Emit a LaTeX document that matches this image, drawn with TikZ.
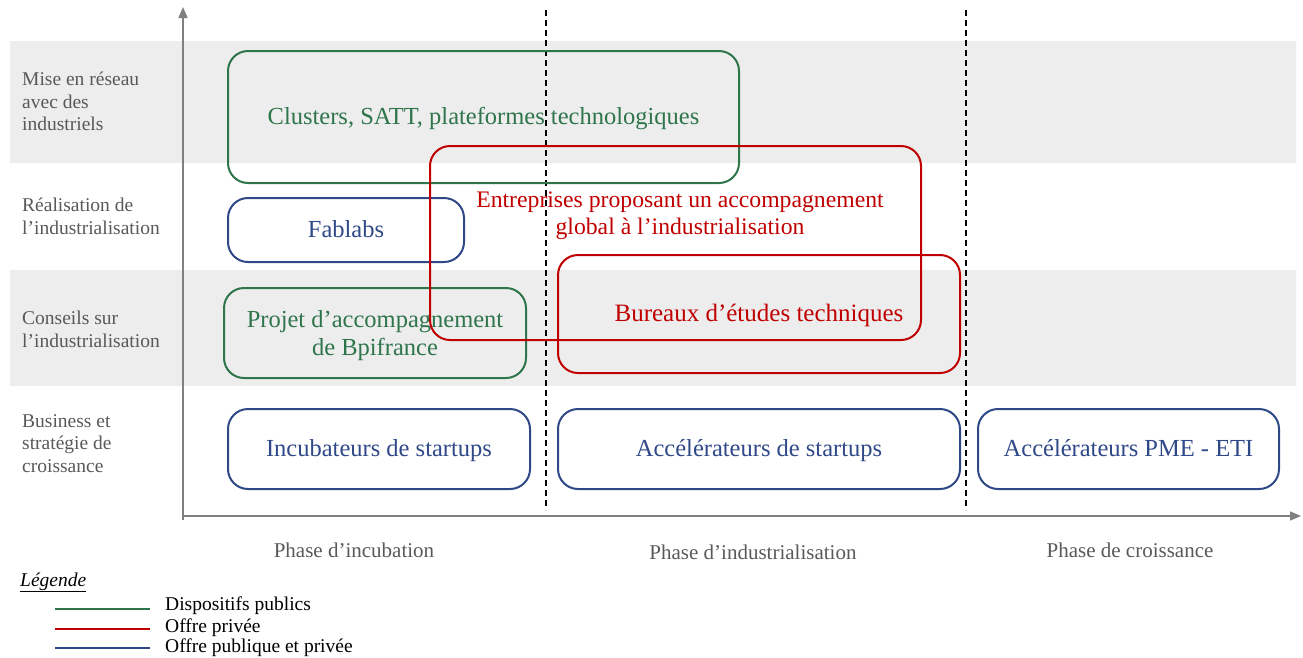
\documentclass[tikz,border=0pt]{standalone}
\usepackage{fontspec}
\setmainfont{Liberation Serif}
\usetikzlibrary{arrows.meta}
\definecolor{cgreen}{RGB}{46,117,76}
\definecolor{cred}{RGB}{192,0,0}
\definecolor{cblue}{RGB}{47,72,136}
\definecolor{cband}{RGB}{237,237,237}
\definecolor{cgray}{RGB}{89,89,89}
\definecolor{caxis}{RGB}{128,128,128}
\tikzset{
  box/.style={draw, line width=2pt, rounded corners=20pt, inner sep=0pt, align=center,
    font=\fontsize{24.5}{28}\selectfont},
  one/.style={text height=17pt, text depth=2pt},
  gbox/.style={box, draw=cgreen, text=cgreen},
  rbox/.style={box, draw=cred, text=cred},
  bbox/.style={box, draw=cblue, text=cblue},
  rowlab/.style={anchor=north west, align=left, text=cgray, inner sep=0pt,
    font=\fontsize{19.5}{22.5}\selectfont},
  phaselab/.style={anchor=base, text=cgray, inner sep=0pt, font=\fontsize{21}{24}\selectfont},
  leglab/.style={anchor=base west, inner sep=0pt, font=\fontsize{19.5}{22}\selectfont},
  axis/.style={draw=caxis, line width=1.6pt, -{Triangle[length=11pt,width=9pt]}},
  sep/.style={draw=black, line width=1.2pt, dash pattern=on 6pt off 4pt}
}
\begin{document}
\begin{tikzpicture}[x=1pt,y=-1pt]
\useasboundingbox (0,0) rectangle (1303,657);
% bands
\fill[cband] (10,41) rectangle (1296,163);
\fill[cband] (10,270) rectangle (1296,386);
% separators
\coordinate (s1t) at (546,10); \coordinate (s1b) at (546,510);
\coordinate (s2t) at (966,10); \coordinate (s2b) at (966,510);
\draw[sep] (s1t) -- (s1b);
\draw[sep] (s2t) -- (s2b);
% axes
\coordinate (o) at (183,516);
\coordinate (ytop) at (183,7);
\coordinate (ybot) at (183,520);
\coordinate (xend) at (1301,516);
\draw[axis] (ybot) -- (ytop);
\draw[axis] (o) -- (xend);
% row labels
\node[rowlab] (r1) at (22,72) {Mise en réseau\\avec des\\industriels};
\node[rowlab] (r2) at (22,198) {Réalisation de\\l’industrialisation};
\node[rowlab] (r3) at (22,311) {Conseils sur\\l’industrialisation};
\node[rowlab] (r4) at (22,414) {Business et\\stratégie de\\croissance};
% boxes
\node[gbox, one, minimum width=511pt, minimum height=132pt] (clusters) at (483.5,117) {Clusters, SATT, plateformes technologiques};
\node[bbox, one, minimum width=236pt, minimum height=64pt] (fablabs) at (346,230) {Fablabs};
\node[gbox, minimum width=302pt, minimum height=90pt] (projet) at (375,333) {\begin{tabular}{@{}c@{}}\rule{0pt}{24.6pt}Projet d’accompagnement\\de Bpifrance\end{tabular}};
\node[rbox, minimum width=491pt, minimum height=194pt] (entreprises) at (675.5,243) {};
\node[text=cred, align=center, inner sep=0pt, font=\fontsize{23.7}{27}\selectfont] (entlab) at (680,215.5) {Entreprises proposant un accompagnement\\global à l’industrialisation};
\node[rbox, one, minimum width=402pt, minimum height=118pt, font=\fontsize{25}{29}\selectfont] (bureaux) at (759,314) {Bureaux d’études techniques};
\node[bbox, one, minimum width=302pt, minimum height=80pt] (incub) at (379,449) {Incubateurs de startups};
\node[bbox, one, minimum width=402pt, minimum height=80pt] (accel) at (759,449) {Accélérateurs de startups};
\node[bbox, one, minimum width=301pt, minimum height=80pt] (pme) at (1128.5,449) {Accélérateurs PME - ETI};
% phase labels
\node[phaselab] (p1) at (354,557) {Phase d’incubation};
\node[phaselab] (p2) at (753,559) {Phase d’industrialisation};
\node[phaselab] (p3) at (1130,557) {Phase de croissance};
% legend
\node[leglab, font=\fontsize{19.5}{22}\selectfont\itshape] (leg) at (20,586) {\underline{Légende}};
\coordinate (g1) at (55,609); \coordinate (g2) at (150,609);
\coordinate (h1) at (55,629); \coordinate (h2) at (150,629);
\coordinate (k1) at (55,648); \coordinate (k2) at (150,648);
\draw[cgreen, line width=2pt] (g1) -- (g2);
\draw[cred, line width=2pt] (h1) -- (h2);
\draw[cblue, line width=2pt] (k1) -- (k2);
\node[leglab] (l1) at (165,610) {Dispositifs publics};
\node[leglab] (l2) at (165,632) {Offre privée};
\node[leglab] (l3) at (165,652) {Offre publique et privée};
\end{tikzpicture}
\end{document}
